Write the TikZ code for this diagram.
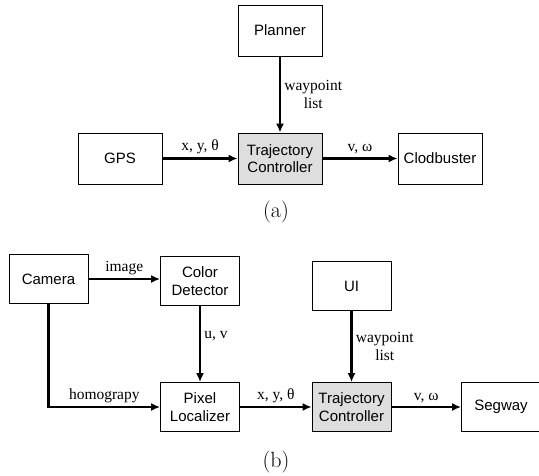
\documentclass[tikz,border=0pt]{standalone}
\usepackage{fontspec}
\newfontfamily\blocksf{Liberation Sans}
\newfontfamily\labelrm{Liberation Serif}
\usetikzlibrary{arrows.meta}

\begin{document}
\begin{tikzpicture}[x=1pt,y=-1pt,
    block/.style={draw,line width=.8pt,minimum width=84pt,minimum height=51pt,inner sep=0pt,align=center,font=\blocksf\fontsize{15}{17.5}\selectfont},
    bblock/.style={block,minimum width=79pt,minimum height=49pt},
    ctrl/.style={fill=black!13},
    flow/.style={-{Latex[length=9pt,width=8pt]},line width=2.8pt},
    sig/.style={font=\labelrm\fontsize{15.5}{17.5}\selectfont,align=center,inner sep=3pt},
    caption/.style={font=\fontsize{22}{26}\selectfont}]
    \useasboundingbox (0,0) rectangle (539,475);
    % (a)
    \node[block] (planner) at (280,30.5) {Planner};
    \node[block,ctrl] (trajA) at (280,158.5) {Trajectory\\Controller};
    \node[block] (gps) at (120,158.5) {GPS};
    \node[block] (clod) at (440,158.5) {Clodbuster};
    \draw[flow] (planner) -- node[sig,right] {waypoint\\list} (trajA);
    \draw[flow] (gps) -- node[sig,above] {x, y, θ} (trajA);
    \draw[flow] (trajA) -- node[sig,above] {v, ω} (clod);
    \node[caption] (capA) at (276,212) {(a)};
    % (b)
    \node[bblock] (camera) at (48.5,279) {Camera};
    \node[bblock] (color) at (200,281) {Color\\Detector};
    \node[bblock] (pixel) at (200,407) {Pixel\\Localizer};
    \node[bblock] (ui) at (351.5,286) {UI};
    \node[bblock,ctrl] (trajB) at (351.5,407) {Trajectory\\Controller};
    \node[bblock] (segway) at (501,407) {Segway};
    \draw[flow] (camera.east) -- node[sig,above] {image} (camera.east -| color.west);
    \draw[flow] (camera.south) |- node[sig,above,pos=.75] {homograpy} (pixel.west);
    \draw[flow] (color) -- node[sig,right,pos=.4] {u, v} (pixel);
    \draw[flow] (pixel) -- node[sig,above] {x, y, θ} (trajB);
    \draw[flow] (ui) -- node[sig,right] {waypoint\\list} (trajB);
    \draw[flow] (trajB) -- node[sig,above] {v, ω} (segway);
    \node[caption] (capB) at (276,462) {(b)};
\end{tikzpicture}
\end{document}
